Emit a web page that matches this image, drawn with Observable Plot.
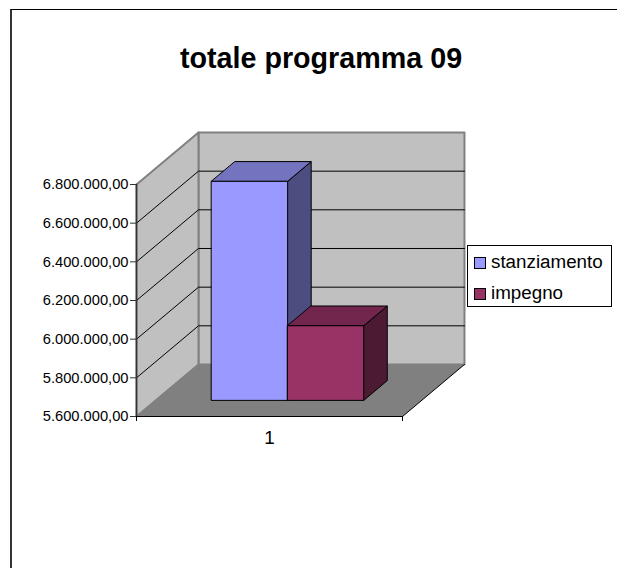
<!DOCTYPE html>
<html><head><meta charset="utf-8">
<script src="https://cdn.jsdelivr.net/npm/d3@7"></script>
<script src="https://cdn.jsdelivr.net/npm/@observablehq/plot@0.6"></script>
<style>
html,body{margin:0;padding:0;background:#fff;overflow:hidden}
#wrap{position:relative;width:617px;height:568px;font-family:"Liberation Sans",Arial,sans-serif;color:#000}
#wrap svg{position:absolute;left:0;top:0;background:transparent}
#frame{position:absolute;left:10px;top:9px;width:700px;height:700px;border:2px solid #333;border-top:1.5px solid #000;box-sizing:border-box}
#title{position:absolute;left:11px;width:620px;top:42px;text-align:center;font-size:28.7px;font-weight:bold;line-height:33px}
#legend{position:absolute;left:467px;top:245px;width:145px;height:62px;box-sizing:border-box;border:1px solid #000;background:#fff;font-size:18.8px}
.it{position:absolute;left:6px;height:22px;line-height:22px;white-space:nowrap}
.sw{display:inline-block;width:10px;height:10px;border:1px solid #000;margin-right:5px;vertical-align:-1px}
</style></head><body>
<div id="wrap"><div id="frame"></div><div id="title"></div><div id="legend"></div></div>
<script>
const titleText = "totale programma 09";
const categories = ["1"];
const series = ["stanziamento", "impegno"];
const values = [6733000, 5986000];
const frontColors = ["#9999ff", "#993366"];
const topColors = ["#7373bf", "#73264d"];
const sideColors = ["#4d4d80", "#4d1a33"];
const yTicks = [5600000, 5800000, 6000000, 6200000, 6400000, 6600000, 6800000];
const yMin = 5600000, yMax = 6800000;
const barEdges = [0.21, 0.496, 0.782];
const barDepth = [0.31, 0.69];

// oblique projection of the box: depth 0 is the front of the floor, depth 1 the back wall
const depthX = 0.233, depthY = 269000;
const P = (u, v, d) => ({x: u + d * depthX, y: v + d * depthY});
const face = (id, pts) => pts.map(([u, v, d]) => ({id, ...P(u, v, d)}));
const fmt = new Intl.NumberFormat("it-IT", {minimumFractionDigits: 2, maximumFractionDigits: 2, useGrouping: "always"});

const floor = face("floor", [[0,yMin,0],[1,yMin,0],[1,yMin,1],[0,yMin,1]]);
const back = face("back", [[0,yMin,1],[1,yMin,1],[1,yMax,1],[0,yMax,1]]);
const side = face("side", [[0,yMin,0],[0,yMin,1],[0,yMax,1],[0,yMax,0]]);
const inner = yTicks.filter(t => t > yMin && t < yMax);
const grid = inner.flatMap(t => face("g" + t, [[0,t,0],[0,t,1],[1,t,1]]));

const [d0, d1] = barDepth;
const bars = series.map((s, i) => {
  const a = barEdges[i], b = barEdges[i + 1], v = values[i];
  return {
    front: face(s + "f", [[a,yMin,d0],[b,yMin,d0],[b,v,d0],[a,v,d0]]),
    top: face(s + "t", [[a,v,d0],[b,v,d0],[b,v,d1],[a,v,d1]]),
    side: face(s + "s", [[b,yMin,d0],[b,yMin,d1],[b,v,d1],[b,v,d0]])
  };
});
const poly = (data, fill, stroke, strokeWidth) =>
  Plot.line(data, {x: "x", y: "y", z: "id", curve: "linear-closed", fill, stroke, strokeWidth});

const chart = Plot.plot({
  width: 617, height: 568,
  marginLeft: 136, marginRight: 215, marginTop: 132, marginBottom: 152,
  x: {domain: [0, 1], range: [136, 402]},
  y: {domain: [yMin, yMax], range: [416, 184]},
  style: {background: "transparent"},
  marks: [
    poly(floor, "#808080", "none", 0),
    poly(back, "#c0c0c0", "#808080", 2),
    poly(side, "#c0c0c0", "#808080", 2),
    Plot.line(grid, {x: "x", y: "y", z: "id", stroke: "#000", strokeWidth: 1}),
    Plot.line(face("edge", [[1,yMin,1],[1,yMin,0],[0,yMin,0]]), {x: "x", y: "y", stroke: "#000", strokeWidth: 1}),
    Plot.line(face("yaxis", [[0,yMin,0],[0,yMax,0]]), {x: "x", y: "y", stroke: "#333", strokeWidth: 1.5}),
    ...bars.flatMap((b, i) => [
      poly(b.side, sideColors[i], "#000", 1),
      poly(b.top, topColors[i], "#000", 1),
      poly(b.front, frontColors[i], "#000", 1)
    ]),
    Plot.axisY({anchor: "left", ticks: yTicks, tickSize: 6, tickPadding: 2, label: null, tickFormat: d => fmt.format(d),
      fontSize: 14.7, stroke: "#333", fill: "#000"}),
    Plot.axisX({anchor: "bottom", ticks: [0, 1], tickSize: 5, tickFormat: () => "", label: null, stroke: "#000"}),
    Plot.axisX({anchor: "bottom", ticks: [0.5], tickSize: 0, tickPadding: 14, tickFormat: () => categories[0], label: null, fontSize: 18.8, fill: "#000"})
  ]
});
chart.style.fontFamily = '"Liberation Sans",Arial,sans-serif';
const wrap = document.getElementById("wrap");
wrap.appendChild(chart);
document.getElementById("title").textContent = titleText;
const lg = document.getElementById("legend");
wrap.appendChild(lg);
series.forEach((s, i) => {
  const it = document.createElement("div");
  it.className = "it";
  it.style.top = (5 + i * 31) + "px";
  const sw = document.createElement("span");
  sw.className = "sw";
  sw.style.background = frontColors[i];
  it.appendChild(sw);
  it.appendChild(document.createTextNode(s));
  lg.appendChild(it);
});
</script>
</body></html>
